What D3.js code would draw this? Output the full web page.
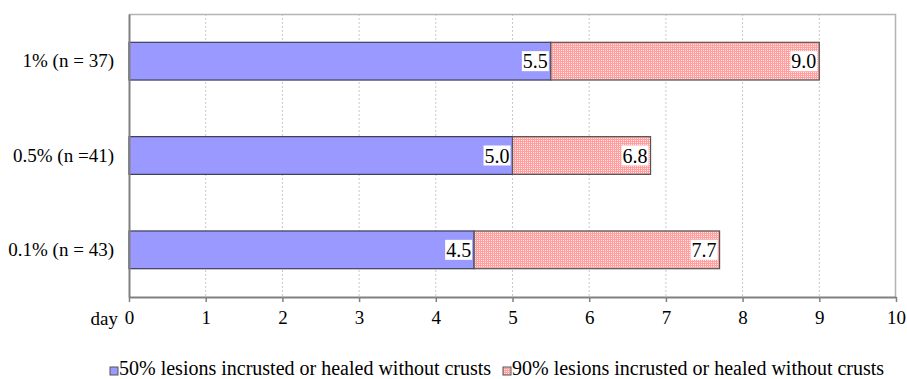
<!DOCTYPE html>
<html>
<head>
<meta charset="utf-8">
<script src="https://cdn.jsdelivr.net/npm/d3@7"></script>
<style>
  body { margin: 0; background: #fff; }
  svg text { font-family: "Liberation Serif", "DejaVu Serif", "Times New Roman", serif !important; fill: #000; }
</style>
</head>
<body>
<div id="chart"></div>
<script>
// data
var groups = ["1% (n = 37)", "0.5% (n =41)", "0.1% (n = 43)"];
var days50 = [5.5, 5.0, 4.5];
var days90 = [9.0, 6.8, 7.7];
var seriesNames = ["50% lesions incrusted or healed without crusts",
                   "90% lesions incrusted or healed without crusts"];
var xTicks = [0, 1, 2, 3, 4, 5, 6, 7, 8, 9, 10];

var W = 907, H = 379;
var margin = {top: 14, right: 11, bottom: 82, left: 129},
    width = W - margin.left - margin.right,
    height = H - margin.top - margin.bottom;

var svg = d3.select("#chart").append("svg")
    .attr("width", W)
    .attr("height", H)
    .attr("font-family", "Liberation Serif");

// dotted pink fill for the 90% series
var defs = svg.append("defs");
var pat = defs.append("pattern")
    .attr("id", "pinkdots")
    .attr("patternUnits", "userSpaceOnUse")
    .attr("width", 2).attr("height", 2);
pat.append("rect").attr("width", 2).attr("height", 2).attr("fill", "#ffa0a0");
pat.append("rect").attr("width", 1).attr("height", 1).attr("fill", "#ffe4e4");

var g = svg.append("g")
    .attr("transform", "translate(" + margin.left + "," + margin.top + ")");

var x = d3.scaleLinear().domain([0, 10]).range([0, width]);
var y = d3.scaleBand().domain(groups).range([0, height]).paddingInner(0.6).paddingOuter(0.3);

// grid lines
g.selectAll(".grid")
    .data(xTicks.filter(function(d) { return d > 0 && d < 10; }))
  .enter().append("line")
    .attr("x1", function(d) { return x(d); })
    .attr("x2", function(d) { return x(d); })
    .attr("y1", 0).attr("y2", height)
    .style("stroke", "#c8c8c8")
    .style("stroke-dasharray", "2,2");

// top and right frame
g.append("path")
    .attr("d", "M0,0.5H" + (width - 0.5) + "V" + height)
    .style("fill", "none")
    .style("stroke", "#b4b4b4")
    .style("stroke-width", 1.5);

// 50% bars
g.selectAll(".bar50")
    .data(groups)
  .enter().append("rect")
    .attr("x", x(0))
    .attr("y", function(d) { return y(d); })
    .attr("width", function(d, i) { return x(days50[i]) - x(0); })
    .attr("height", y.bandwidth())
    .style("fill", "#9999ff")
    .style("stroke", "#3c3c5a")
    .style("stroke-width", 1.2);

// 90% bars (start where the 50% bar ends)
g.selectAll(".bar90")
    .data(groups)
  .enter().append("rect")
    .attr("x", function(d, i) { return x(days50[i]); })
    .attr("y", function(d) { return y(d); })
    .attr("width", function(d, i) { return x(days90[i]) - x(days50[i]); })
    .attr("height", y.bandwidth())
    .style("fill", "url(#pinkdots)")
    .style("stroke", "#555")
    .style("stroke-width", 1.2);

// value labels with white boxes
function addLabels(vals) {
  vals.forEach(function(v, i) {
    var lg = g.append("g");
    var t = lg.append("text")
        .attr("x", x(v) - 3)
        .attr("y", y(groups[i]) + y.bandwidth() / 2)
        .attr("dy", "0.35em")
        .attr("text-anchor", "end")
        .style("font-size", "20px")
        .text(v.toFixed(1));
    var b = t.node().getBBox();
    lg.insert("rect", "text")
        .attr("x", b.x - 1).attr("y", b.y + 1)
        .attr("width", b.width + 2).attr("height", b.height - 2)
        .style("fill", "#fff");
  });
}
addLabels(days50);
addLabels(days90);

// y axis
var yAxis = g.append("g").call(d3.axisLeft(y).tickSize(0).tickPadding(15));
yAxis.attr("font-family", null);
yAxis.select(".domain").style("stroke", "#808080").style("stroke-width", 2);
yAxis.selectAll("text").style("font-size", "19px");

// x axis
var xAxis = g.append("g")
    .attr("transform", "translate(0," + height + ")")
    .call(d3.axisBottom(x).tickValues(xTicks).tickSize(5).tickSizeOuter(0).tickPadding(9));
xAxis.attr("font-family", null);
xAxis.select(".domain").style("stroke", "#808080").style("stroke-width", 2);
xAxis.selectAll(".tick line").style("stroke", "#808080").style("stroke-width", 1.5);
xAxis.selectAll("text").style("font-size", "19px");

g.append("text")
    .attr("x", -11)
    .attr("y", height + 28)
    .attr("text-anchor", "end")
    .style("font-size", "19px")
    .text("day");

// legend
var legend = svg.append("g").attr("transform", "translate(0," + 375 + ")");
var legFills = ["#9999ff", "url(#pinkdots)"];
var legX = [110, 503];
seriesNames.forEach(function(s, i) {
  legend.append("rect")
      .attr("x", legX[i]).attr("y", -8)
      .attr("width", 8).attr("height", 8)
      .style("fill", legFills[i])
      .style("stroke", "#555");
  legend.append("text")
      .attr("x", legX[i] + 9)
      .attr("y", 0)
      .style("font-size", "20px")
      .text(s);
});
</script>
</body>
</html>
